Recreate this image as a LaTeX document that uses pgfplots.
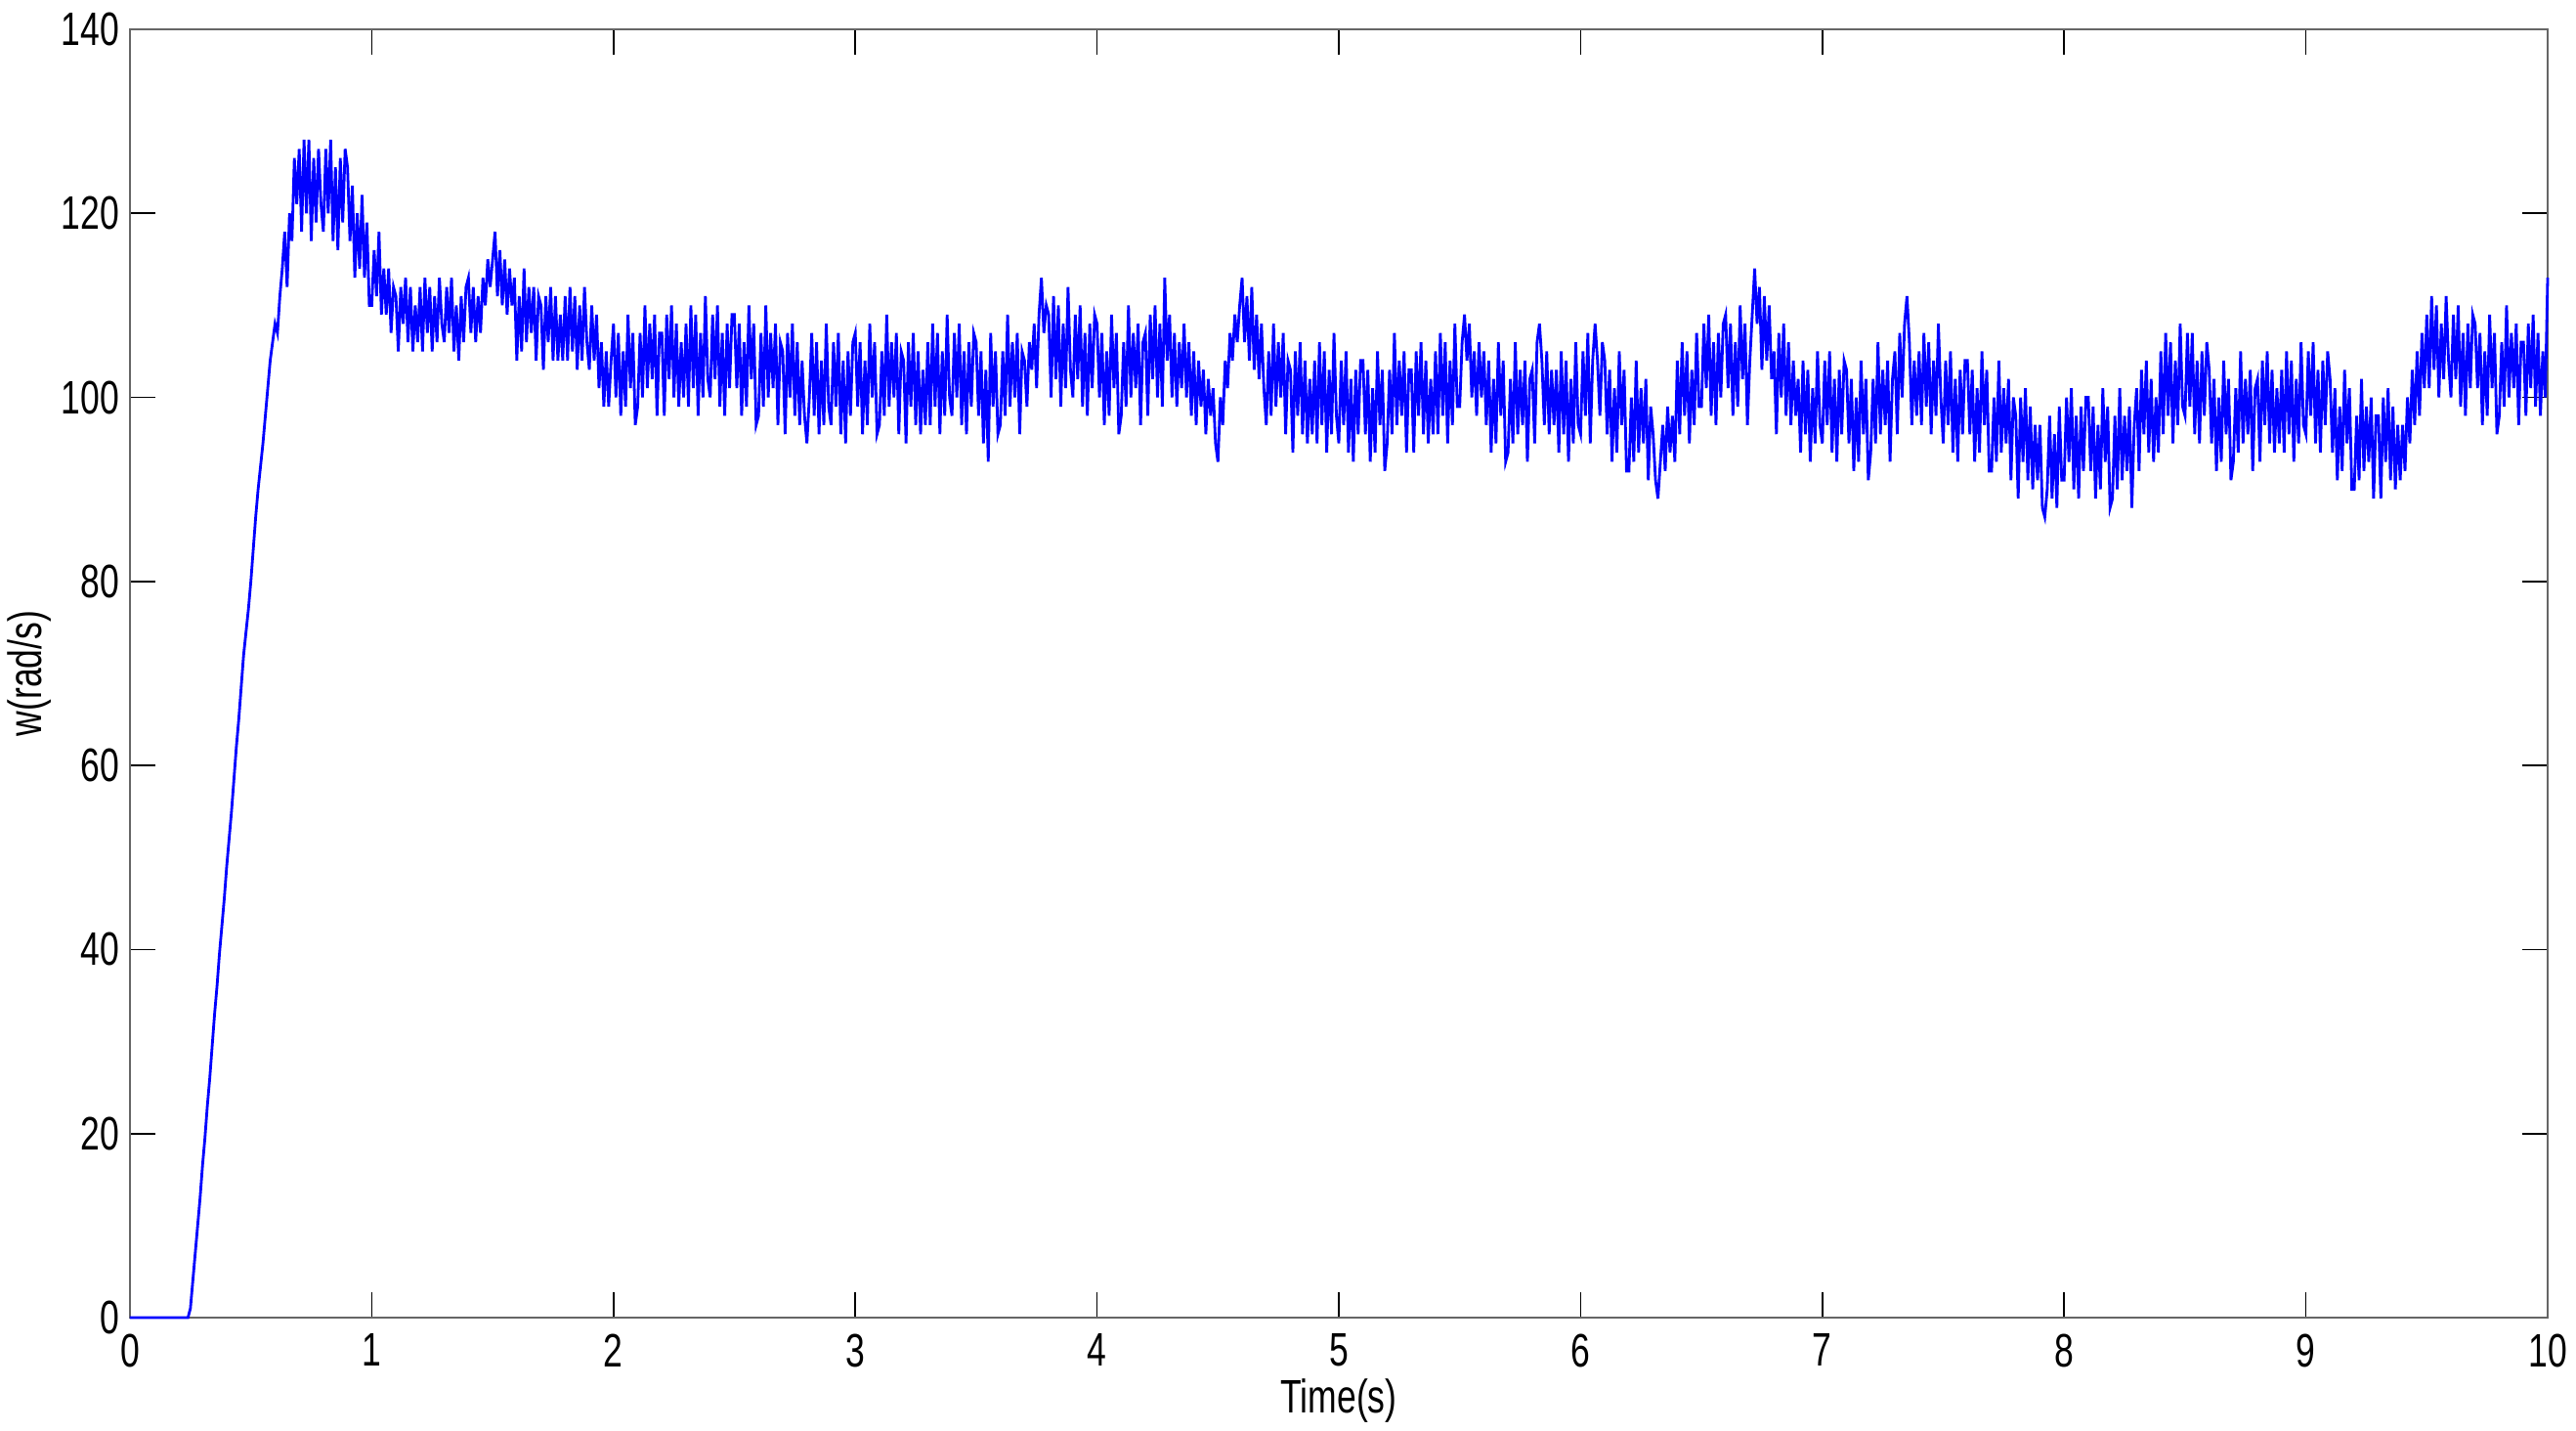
\documentclass[border=0pt]{standalone}
\usepackage{fontspec}
\setmainfont{Liberation Sans}[FakeStretch=0.74]
\usepackage{pgfplots}
\pgfplotsset{compat=1.18}
\begin{document}
\fontsize{12}{14}\selectfont
\begin{tikzpicture}
\begin{axis}[
  scale only axis, width=618.5pt, height=329.5pt,
  xmin=0, xmax=10, ymin=0, ymax=140,
  xtick={0,1,...,10}, ytick={0,20,...,140},
  tick align=inside, major tick length=6.5pt,
  tick style={black, line width=0.4pt},
  axis line style={draw=black!60, line width=0.7pt},
  /pgf/number format/assume math mode=true,
  yticklabel style={inner xsep=2.5pt},
  xlabel={Time(s)}, ylabel={w(rad/s)},
  xlabel style={at={(axis description cs:0.5,0)}, anchor=center, yshift=-21.25pt},
  ylabel style={at={(axis description cs:0,0.5)}, anchor=center, yshift=25.75pt},
  clip=false,
]
\addplot[color={rgb,255:red,0;green,0;blue,255}, line width=0.7pt] table[row sep=\\, header=false, x expr=\coordindex*0.01, y index=0] {
0\\0\\0\\0\\0\\0\\0\\0\\0\\0\\
0\\0\\0\\0\\0\\0\\0\\0\\0\\0\\
0\\0\\0\\0\\0\\1\\4\\7\\10\\13\\
16.5\\19.5\\23\\26\\29.5\\33\\36\\39.5\\42.5\\45.5\\
49\\52\\55\\58.5\\62\\65\\68.5\\72\\74.5\\77\\
80\\83.5\\87\\90\\92.5\\95\\98\\101\\104\\106\\
108\\107\\111\\114\\118\\112\\120\\117\\126\\121\\
127\\118\\128\\120\\128\\117\\126\\119\\127\\121\\
118\\127\\120\\128\\117\\125\\116\\126\\119\\127\\
125\\117\\123\\113\\120\\114\\122\\113\\119\\110\\
110\\116\\111\\118\\109\\114\\109\\114\\107\\112\\
111\\105\\112\\108\\113\\106\\112\\105\\110\\106\\
112\\105\\113\\107\\112\\105\\111\\106\\113\\108\\
106\\112\\107\\113\\105\\110\\104\\111\\106\\112\\
113\\107\\112\\106\\111\\107\\113\\110\\115\\112\\
115\\118\\111\\116\\110\\115\\109\\114\\110\\113\\
104\\111\\105\\114\\106\\112\\107\\112\\104\\111\\
110\\103\\111\\106\\112\\104\\111\\104\\109\\104\\
111\\104\\112\\105\\111\\103\\110\\104\\112\\106\\
103\\110\\104\\109\\101\\106\\99\\105\\99\\104\\
108\\100\\107\\98\\105\\99\\109\\101\\107\\97\\
99\\107\\100\\110\\101\\108\\102\\109\\98\\107\\
107\\98\\109\\102\\110\\100\\108\\99\\106\\100\\
108\\99\\110\\101\\109\\98\\107\\100\\111\\102\\
100\\109\\102\\110\\99\\107\\98\\108\\101\\109\\
109\\101\\108\\98\\106\\99\\110\\102\\108\\97\\
98\\107\\99\\110\\100\\107\\101\\108\\97\\106\\
105\\96\\107\\100\\108\\98\\106\\97\\104\\98\\
95\\100\\107\\98\\106\\96\\104\\97\\108\\99\\
97\\106\\99\\107\\96\\104\\95\\105\\98\\106\\
107\\99\\106\\96\\104\\97\\108\\100\\106\\96\\
97\\105\\98\\109\\99\\106\\100\\107\\96\\105\\
104\\95\\106\\99\\107\\97\\105\\96\\103\\97\\
106\\97\\108\\99\\107\\96\\105\\98\\109\\100\\
98\\107\\100\\108\\97\\105\\96\\106\\99\\107\\
106\\98\\105\\95\\103\\93\\107\\99\\105\\96\\
97\\105\\98\\109\\99\\106\\100\\107\\96\\105\\
104\\99\\106\\103\\108\\101\\109\\113\\107\\110\\
109\\100\\111\\102\\110\\99\\108\\101\\112\\103\\
100\\109\\102\\110\\99\\107\\98\\108\\101\\109\\
108\\100\\107\\97\\105\\98\\109\\101\\107\\96\\
98\\106\\99\\110\\100\\107\\101\\108\\97\\106\\
107\\98\\109\\102\\110\\100\\108\\99\\113\\104\\
109\\100\\107\\99\\106\\101\\108\\100\\106\\98\\
105\\97\\104\\99\\103\\96\\102\\98\\101\\95\\
93\\100\\97\\104\\101\\107\\104\\109\\106\\110\\
113\\106\\111\\104\\112\\103\\109\\102\\108\\101\\
97\\105\\98\\108\\99\\106\\100\\107\\96\\104\\
103\\94\\105\\98\\106\\96\\104\\95\\102\\96\\
104\\95\\106\\97\\105\\94\\103\\96\\107\\98\\
95\\104\\97\\105\\94\\102\\93\\103\\96\\104\\
104\\96\\103\\93\\101\\94\\105\\97\\103\\92\\
95\\103\\96\\107\\97\\104\\98\\105\\94\\103\\
103\\94\\105\\98\\106\\96\\104\\95\\102\\96\\
105\\96\\107\\98\\106\\95\\104\\97\\108\\99\\
99\\106\\109\\104\\108\\100\\105\\98\\106\\100\\
105\\97\\104\\94\\102\\95\\106\\98\\104\\93\\
94\\102\\95\\106\\96\\103\\97\\104\\93\\102\\
103\\95\\106\\108\\104\\97\\105\\96\\103\\97\\
103\\94\\105\\96\\104\\93\\102\\95\\106\\97\\
96\\105\\98\\107\\95\\104\\108\\104\\98\\106\\
104\\96\\103\\93\\101\\94\\105\\97\\103\\92\\
92\\100\\93\\104\\94\\101\\95\\102\\91\\99\\
96\\91\\89\\93\\97\\92\\99\\94\\98\\93\\
104\\96\\106\\98\\105\\95\\103\\97\\107\\99\\
99\\108\\101\\109\\98\\106\\97\\107\\100\\108\\
109\\101\\108\\98\\106\\99\\110\\102\\108\\97\\
104\\109\\114\\108\\112\\103\\111\\104\\110\\102\\
105\\96\\107\\100\\108\\98\\106\\97\\104\\98\\
102\\94\\104\\96\\103\\93\\101\\95\\105\\97\\
95\\104\\97\\105\\94\\102\\93\\103\\96\\104\\
103\\95\\102\\92\\100\\93\\104\\96\\102\\91\\
94\\102\\95\\106\\96\\103\\97\\104\\93\\102\\
105\\96\\107\\100\\108\\111\\106\\97\\104\\98\\
105\\97\\107\\99\\106\\96\\104\\98\\108\\100\\
95\\104\\97\\105\\94\\102\\93\\103\\96\\104\\
104\\96\\103\\93\\101\\94\\105\\97\\103\\92\\
92\\100\\93\\104\\94\\101\\95\\102\\91\\100\\
98\\89\\100\\93\\101\\91\\99\\90\\97\\91\\
97\\88\\87\\90\\98\\89\\96\\88\\99\\91\\
91\\100\\93\\101\\90\\98\\89\\99\\92\\100\\
100\\92\\99\\89\\97\\90\\101\\93\\99\\88\\
89\\98\\90\\101\\91\\98\\92\\99\\88\\97\\
101\\92\\103\\96\\104\\94\\102\\93\\100\\94\\
105\\96\\107\\98\\106\\95\\104\\97\\108\\99\\
98\\107\\99\\107\\96\\104\\95\\105\\98\\106\\
103\\95\\102\\92\\100\\93\\104\\96\\102\\91\\
93\\101\\94\\105\\95\\102\\96\\103\\92\\101\\
102\\93\\104\\97\\105\\95\\103\\94\\101\\95\\
103\\94\\105\\96\\104\\93\\102\\95\\106\\97\\
96\\105\\98\\106\\95\\103\\94\\104\\97\\105\\
102\\94\\101\\91\\99\\92\\103\\95\\101\\90\\
90\\98\\91\\102\\92\\99\\93\\100\\89\\98\\
98\\89\\100\\93\\101\\91\\99\\90\\97\\91\\
97\\92\\100\\95\\103\\97\\105\\98\\107\\101\\
109\\101\\111\\103\\110\\100\\108\\102\\111\\104\\
100\\109\\102\\110\\99\\107\\98\\108\\101\\109\\
108\\101\\107\\97\\105\\98\\109\\101\\107\\96\\
98\\106\\99\\110\\100\\107\\101\\108\\97\\106\\
106\\98\\108\\101\\109\\99\\107\\98\\105\\100\\
113\\
};
\coordinate (sw) at (rel axis cs:0,0);
\coordinate (ne) at (rel axis cs:1,1);
\end{axis}
\pgfresetboundingbox
\path[use as bounding box] ([shift={(-33.25pt,-29pt)}]sw) rectangle ([shift={(7.25pt,7.5pt)}]ne);
\end{tikzpicture}
\end{document}
